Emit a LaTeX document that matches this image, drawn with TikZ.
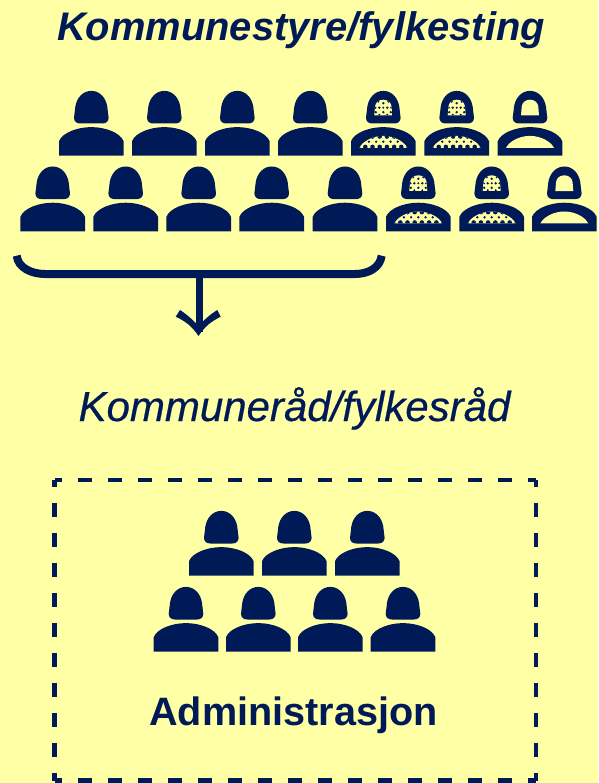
\documentclass[tikz,border=0pt]{standalone}
\usepackage{fontspec}
\setmainfont{Liberation Sans}
\newfontfamily\raadfont[FakeBold=0.5]{Liberation Sans Italic}
\definecolor{navy}{HTML}{001A57}
\definecolor{paper}{HTML}{FFFFA5}
\newcommand{\headpath}{(-17.3,-38) .. controls (-17.3,-34.5) and (-15,-32.2) .. (-11,-32.2) -- (11,-32.2) .. controls (15,-32.2) and (17.3,-34.5) .. (17.3,-38) .. controls (16.8,-42) and (16.3,-46) .. (16,-49) .. controls (14.5,-58) and (8.5,-64.8) .. (0,-64.8) .. controls (-8.5,-64.8) and (-14.5,-58) .. (-16,-49) .. controls (-16.3,-46) and (-16.8,-42) .. (-17.3,-38) -- cycle}
\newcommand{\bodypath}{(-32.3,0) -- (-32.3,-14.5) .. controls (-29,-23) and (-14,-28.6) .. (0,-28.6) .. controls (14,-28.6) and (29,-23) .. (32.3,-14.5) -- (32.3,0) -- cycle}
\newcommand{\headhole}{(-9,-40.2) -- (9,-40.2) .. controls (8.7,-43) and (8.6,-46) .. (8.3,-49) .. controls (8,-53) and (4.5,-56) .. (0,-56) .. controls (-4.5,-56) and (-8,-53) .. (-8.3,-49) .. controls (-8.6,-46) and (-8.7,-43) .. (-9,-40.2) -- cycle}
\newcommand{\bodyhole}{(-24,-7.8) -- (24,-7.8) .. controls (21,-14) and (11,-19.8) .. (0,-19.8) .. controls (-11,-19.8) and (-21,-14) .. (-24,-7.8) -- cycle}
\tikzset{
  x=1pt,y=-1pt,
  ink/.style={fill=navy,draw=none},
  hole/.style={fill=paper,draw=none},
  person/.pic={\fill[ink] \headpath; \fill[ink] \bodypath;},
  outlined/.pic={\fill[ink] \headpath; \fill[ink] \bodypath; \fill[hole] \headhole; \fill[hole] \bodyhole;},
  meshed/.pic={\fill[ink] \headpath; \fill[ink] \bodypath;
    \begin{scope}\clip \headhole;
      \fill[hole] (-10,-57) rectangle (10,-40);
      \foreach \px/\py in {0/-52.5,-4/-48,4/-48,0/-43.5,-7.5/-43.5,7.5/-43.5}
        \fill[navy] (\px,\py) circle (1.3);
      \foreach \px/\py in {-5/-54,5/-54,0/-48,-7.8/-48,7.8/-48,-4/-41,4/-41}
        \fill[navy] (\px,\py) circle (1.1);
    \end{scope}
    \begin{scope}\clip \bodyhole;
      \fill[hole] (-25,-21) rectangle (25,-7);
      \foreach \k in {-3,...,3}{\fill[navy] ({\k*7.2},-14) circle (1.3);}
      \foreach \k in {-4,...,3}{
        \fill[navy] ({(\k+0.5)*7.2},-19.2) circle (2.3);
        \fill[navy] ({(\k+0.5)*7.2},-8.8) circle (2.3);}
    \end{scope}},
  bracket/.style={draw=navy,line width=8pt,line cap=butt},
  stem/.style={draw=navy,line width=7pt},
  dashside/.style={draw=navy,line width=4.5pt,dash pattern=on 14pt off 16pt,dash phase=7pt},
  titletext/.style={text=navy,inner sep=0pt,anchor=base},
}
\begin{document}
\begin{tikzpicture}
\useasboundingbox (0,0) rectangle (598,783);
\fill[paper] (0,0) rectangle (598,783);
\node[titletext,font=\fontsize{39.9}{42}\selectfont\bfseries\itshape] (title) at (301,41) {Kommunestyre/fylkesting};
\node[titletext,font=\raadfont\fontsize{42}{44}\selectfont] (raad) at (294.5,421) {Kommuneråd/fylkesråd};
\node[titletext,font=\fontsize{39.6}{42}\selectfont\bfseries] (admin) at (293.5,725) {Administrasjon};
\foreach \cx in {91.3,164.3,237.3,310.3} \pic at (\cx,155.7) {person};
\foreach \cx in {383.3,456.7} \pic at (\cx,155.7) {meshed};
\pic at (530,155.7) {outlined};
\foreach \cx in {52.7,125.7,198.7,271.7,345} \pic at (\cx,231.3) {person};
\foreach \cx in {418.3,491.7} \pic at (\cx,231.3) {meshed};
\pic at (564.3,231.3) {outlined};
\foreach \cx in {221.3,294.3,367.3} \pic at (\cx,575.7) {person};
\foreach \cx in {186,258.3,330.3,403} \pic at (\cx,651.7) {person};
\coordinate (braceL) at (16.7,255.7);
\coordinate (braceR) at (381.7,255.7);
\coordinate (braceM) at (199,274);
\coordinate (tip) at (199,332);
\draw[bracket] (braceL) .. controls (18,268) and (32,274) .. (45,274) -- (braceM) -- (355,274) .. controls (368,274) and (380,268) .. (braceR);
\draw[stem] (braceM) -- (tip);
\fill[navy] (198.5,336) .. controls (192,326) and (185,321) .. (175.7,316.7) -- (180,310) .. controls (187,314.5) and (193,320) .. (198.5,326) .. controls (204,320) and (210,314.5) .. (217.3,310) -- (220.7,316.7) .. controls (212,321) and (205,326) .. (198.5,336) -- cycle;
\coordinate (tl) at (54.7,480);
\coordinate (tr) at (536,480);
\coordinate (bl) at (54.7,780.7);
\coordinate (br) at (536,780.7);
\draw[dashside] (tl) -- (tr);
\draw[dashside] (tl) -- (bl);
\draw[dashside] (bl) -- (br);
\draw[dashside] (tr) -- (br);
\end{tikzpicture}
\end{document}
